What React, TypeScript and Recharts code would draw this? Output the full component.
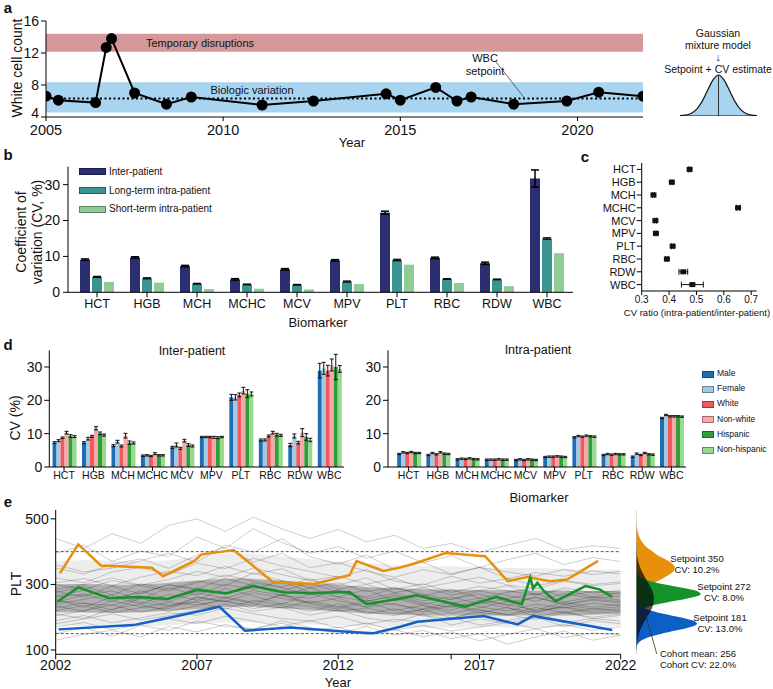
import React from "react";
import {
  Area,
  Bar,
  BarChart,
  ComposedChart,
  ErrorBar,
  Line,
  ReferenceArea,
  ReferenceLine,
  Scatter,
  ScatterChart,
  XAxis,
  YAxis,
} from "recharts";

// 多パネル図 (a: WBC 推移, b: CV 棒, c: CV 比, d: 属性別 CV, e: PLT 推移)

const FONT = "'Liberation Sans', Arial, sans-serif";

// ---- panel a
const A_YEAR = [2005.0, 2005.35, 2006.4, 2006.7, 2006.85, 2007.5, 2008.4, 2009.1, 2011.1, 2012.55, 2014.6, 2015.0, 2016.0, 2016.6, 2017.0, 2018.2, 2019.7, 2020.6, 2021.85];
const A_WBC = [6.6, 6.1, 5.8, 12.7, 13.8, 7.0, 5.6, 6.5, 5.5, 6.0, 6.9, 6.1, 7.7, 6.0, 6.5, 5.6, 6.0, 7.1, 6.6];
const A_SETPOINT = 6.3;
const GAUSS_X = [-3.5, -3, -2.5, -2, -1.5, -1, -0.5, 0, 0.5, 1, 1.5, 2, 2.5, 3, 3.5];
const GAUSS_Y = [0.01, 0.02, 0.06, 0.16, 0.35, 0.62, 0.88, 1, 0.88, 0.62, 0.35, 0.16, 0.06, 0.02, 0.01];

// ---- panel b
const MARKERS = ["HCT", "HGB", "MCH", "MCHC", "MCV", "MPV", "PLT", "RBC", "RDW", "WBC"];
const B_INTER = [9.1, 9.7, 7.3, 3.6, 6.4, 8.9, 22.2, 9.6, 8.1, 31.7];
const B_INTER_ERR = [0.2, 0.2, 0.2, 0.2, 0.2, 0.2, 0.4, 0.2, 0.3, 2.4];
const B_LONG = [4.3, 3.9, 2.4, 2.2, 2.1, 3.0, 9.0, 3.7, 3.6, 15.0];
const B_LONG_ERR = [0.15, 0.15, 0.1, 0.1, 0.1, 0.15, 0.2, 0.1, 0.1, 0.2];
const B_SHORT = [2.9, 2.7, 0.9, 1.0, 0.8, 2.3, 7.7, 2.6, 1.7, 10.9];

// ---- panel c
const C_RATIO = [0.475, 0.41, 0.343, 0.652, 0.35, 0.352, 0.413, 0.392, 0.452, 0.485];
const C_ERR = [0.004, 0.004, 0.004, 0.006, 0.004, 0.004, 0.004, 0.004, 0.016, 0.04];

// ---- panel d
const GROUPS = ["Male", "Female", "White", "Non-white", "Hispanic", "Non-hispanic"];
const GROUP_COLORS = ["#1f6db2", "#a3c9e3", "#f2585c", "#f7a8aa", "#2e9f3a", "#98d98c"];
const D_INTER = [
  [7.3, 7.3, 6.4, 3.4, 5.9, 9.0, 20.9, 8.1, 6.6, 28.9],
  [7.9, 8.5, 7.6, 3.5, 6.6, 9.0, 20.9, 8.1, 9.3, 29.6],
  [8.8, 9.2, 6.3, 3.3, 5.6, 9.0, 21.6, 9.3, 7.3, 28.9],
  [10.3, 11.6, 9.4, 4.0, 7.9, 8.9, 22.9, 10.3, 10.3, 30.6],
  [9.3, 10.1, 7.3, 3.5, 6.6, 8.8, 22.0, 9.7, 9.0, 30.0],
  [9.1, 9.6, 7.2, 3.5, 6.3, 9.0, 21.9, 9.5, 8.1, 29.4],
];
const D_INTER_ERR = [
  [0.3, 0.3, 0.3, 0.2, 0.3, 0.2, 0.9, 0.3, 0.5, 2.2],
  [0.3, 0.4, 0.4, 0.2, 0.6, 0.2, 0.8, 0.3, 0.6, 1.8],
  [0.2, 0.3, 0.3, 0.2, 0.3, 0.2, 0.6, 0.3, 0.4, 1.6],
  [0.4, 0.5, 0.7, 0.3, 0.4, 0.3, 1.0, 0.4, 1.2, 1.8],
  [0.4, 0.4, 0.5, 0.2, 0.4, 0.3, 1.2, 0.4, 1.0, 3.8],
  [0.3, 0.3, 0.3, 0.2, 0.3, 0.2, 0.6, 0.3, 0.5, 1.0],
];
const D_INTRA = [
  [3.9, 3.6, 2.3, 2.2, 2.1, 3.0, 8.9, 3.6, 3.1, 14.7],
  [4.4, 4.2, 2.5, 2.2, 2.3, 3.1, 9.3, 3.9, 4.0, 15.6],
  [4.2, 3.8, 2.4, 2.2, 2.1, 3.1, 9.1, 3.7, 3.6, 15.2],
  [4.5, 4.4, 2.6, 2.3, 2.3, 3.2, 9.4, 3.9, 4.2, 15.2],
  [4.2, 4.0, 2.4, 2.2, 2.2, 3.1, 9.2, 3.8, 3.8, 15.2],
  [4.2, 3.9, 2.3, 2.2, 2.1, 3.0, 9.1, 3.8, 3.7, 15.1],
];
const D_INTRA_ERR = 0.2;

// ---- panel e
const E_YEARS = [2002, 2003, 2004, 2005, 2006, 2007, 2008, 2009, 2010, 2011, 2012, 2013, 2014, 2015, 2016, 2017, 2018, 2019, 2020, 2021, 2022];
const E_GREY = [
  [262, 270, 248, 281, 255, 290, 272, 301, 266, 258, 284, 249, 263, 240, 255, 271, 246, 260, 238, 252, 244],
  [220, 236, 214, 229, 245, 238, 251, 226, 242, 233, 219, 228, 210, 224, 236, 214, 205, 221, 230, 212, 218],
  [305, 318, 296, 322, 340, 327, 355, 331, 348, 312, 325, 301, 318, 290, 306, 322, 298, 287, 310, 296, 303],
  [190, 205, 183, 198, 214, 206, 228, 211, 196, 188, 203, 179, 194, 185, 200, 176, 190, 205, 184, 196, 188],
  [280, 262, 295, 271, 300, 286, 318, 296, 280, 305, 276, 262, 289, 270, 254, 280, 266, 249, 272, 258, 264],
  [240, 255, 268, 246, 233, 260, 247, 275, 258, 244, 230, 252, 238, 226, 245, 232, 219, 240, 228, 243, 235],
  [350, 332, 361, 378, 349, 390, 412, 368, 395, 351, 366, 340, 322, 345, 330, 352, 318, 336, 325, 341, 332],
  [170, 184, 162, 178, 195, 181, 203, 188, 172, 190, 168, 182, 160, 175, 158, 170, 184, 165, 178, 160, 172],
  [255, 230, 262, 241, 270, 252, 288, 265, 240, 272, 250, 231, 258, 236, 221, 247, 228, 214, 238, 225, 232],
  [300, 285, 312, 296, 280, 305, 329, 310, 292, 318, 286, 300, 275, 290, 268, 282, 296, 270, 284, 262, 276],
  [228, 244, 222, 258, 236, 249, 262, 245, 268, 240, 225, 246, 220, 237, 212, 229, 248, 216, 232, 218, 226],
  [395, 420, 370, 402, 385, 445, 410, 470, 428, 395, 415, 380, 402, 366, 388, 352, 376, 395, 360, 382, 370],
  [205, 220, 238, 215, 232, 246, 225, 252, 236, 218, 241, 210, 226, 204, 196, 222, 208, 193, 214, 200, 210],
  [275, 295, 268, 302, 285, 310, 296, 335, 312, 290, 305, 278, 292, 266, 284, 258, 276, 290, 262, 280, 270],
  [150, 168, 142, 175, 160, 188, 172, 165, 182, 158, 170, 146, 162, 140, 155, 128, 148, 165, 138, 152, 146],
  [245, 268, 280, 255, 290, 268, 300, 286, 310, 275, 262, 284, 250, 268, 244, 258, 236, 262, 240, 255, 248],
  [320, 305, 338, 352, 330, 365, 348, 380, 356, 340, 322, 345, 310, 298, 325, 304, 318, 296, 312, 300, 308],
  [235, 218, 250, 232, 226, 262, 248, 236, 270, 244, 258, 230, 242, 216, 235, 222, 208, 230, 214, 226, 220],
  [265, 282, 258, 275, 298, 284, 270, 305, 290, 268, 282, 256, 274, 250, 262, 240, 258, 272, 246, 262, 252],
  [210, 196, 225, 240, 218, 235, 258, 242, 228, 250, 232, 216, 205, 224, 198, 214, 230, 202, 218, 195, 206],
  [285, 300, 320, 298, 315, 340, 322, 350, 330, 312, 298, 320, 285, 302, 276, 294, 280, 268, 290, 274, 282],
  [180, 195, 210, 192, 205, 222, 240, 218, 230, 206, 222, 198, 186, 210, 176, 195, 182, 200, 172, 190, 180],
  [360, 338, 350, 372, 395, 368, 420, 398, 440, 385, 362, 390, 345, 368, 332, 352, 338, 325, 346, 330, 340],
  [250, 242, 236, 260, 248, 275, 258, 282, 266, 290, 262, 248, 268, 244, 230, 252, 238, 222, 246, 230, 240],
  [440, 410, 455, 425, 480, 500, 462, 505, 470, 440, 468, 430, 450, 410, 425, 398, 420, 440, 405, 418, 410],
  [130, 148, 160, 140, 172, 155, 178, 162, 190, 168, 150, 172, 145, 160, 135, 150, 118, 140, 158, 130, 145],
];
const E_OUTER_LO = [175, 172, 170, 172, 175, 180, 185, 185, 180, 178, 175, 172, 170, 168, 168, 170, 170, 168, 170, 172, 175];
const E_OUTER_HI = [370, 375, 372, 370, 372, 385, 395, 395, 385, 378, 370, 365, 360, 355, 355, 352, 350, 350, 348, 345, 345];
const E_INNER_LO = [215, 215, 212, 215, 220, 225, 232, 232, 228, 222, 218, 212, 208, 205, 205, 205, 205, 205, 205, 208, 210];
const E_INNER_HI = [300, 302, 298, 300, 305, 312, 318, 318, 312, 305, 298, 292, 288, 285, 285, 283, 282, 282, 280, 280, 280];

const E_OR_X = [2002.15, 2002.8, 2003.6, 2005.4, 2005.8, 2006.9, 2007.15, 2008.3, 2009.7, 2011.1, 2012.4, 2012.65, 2013.6, 2014.2, 2014.7, 2015.8, 2017.2, 2018.0, 2018.7, 2019.5, 2020.1, 2021.2];
const E_OR_Y = [334, 422, 358, 351, 325, 371, 391, 405, 307, 301, 328, 371, 341, 352, 364, 396, 386, 310, 323, 310, 315, 372];
const E_GR_X = [2002.06, 2002.8, 2003.9, 2004.95, 2005.95, 2007.0, 2008.05, 2009.0, 2010.05, 2011.0, 2012.4, 2013.0, 2014.2, 2014.75, 2016.5, 2017.6, 2018.5, 2018.8, 2018.9, 2019.05, 2019.3, 2019.7, 2020.75, 2021.25, 2021.7];
const E_GR_Y = [247, 291, 258, 262, 256, 283, 273, 295, 276, 274, 277, 240, 257, 267, 232, 262, 240, 321, 288, 305, 278, 249, 295, 285, 262];
const E_BL_X = [2002.1, 2004.75, 2006.3, 2007.8, 2008.7, 2010.3, 2012.45, 2013.25, 2014.2, 2014.8, 2017.15, 2018.35, 2018.9, 2021.7];
const E_BL_Y = [163, 176, 204, 232, 159, 169, 155, 151, 171, 186, 204, 178, 204, 161];

const DENS_V = [100, 110, 120, 130, 140, 150, 160, 170, 180, 190, 200, 210, 220, 230, 240, 250, 260, 270, 280, 290, 300, 310, 320, 330, 340, 350, 360, 370, 380, 390, 400, 410, 420, 430, 440, 450, 460, 470, 480, 490, 500, 510, 520];
const DENS_ORANGE = [0, 0, 0, 0, 0, 0, 0, 0, 0, 0, 0, 0, 0, 0.2, 0.4, 0.8, 1.7, 3.3, 5.9, 9.7, 14.9, 21.1, 27.6, 33.4, 37.5, 39, 37.5, 33.4, 27.6, 21.1, 17, 12, 8.5, 6, 4, 2.8, 1.8, 1.1, 0.6, 0.3, 0.1, 0, 0];
const DENS_GREEN = [0, 0, 0, 0, 0, 0, 0, 0, 0, 0, 0.3, 1.2, 4.0, 10.5, 22.6, 39.4, 56, 64.7, 60.8, 46.5, 28.9, 14.6, 6.0, 2.0, 0.5, 0.1, 0, 0, 0, 0, 0, 0, 0, 0, 0, 0, 0, 0, 0, 0, 0, 0, 0];
const DENS_BLUE = [0.2, 0.6, 2.1, 5.8, 13.3, 25.6, 40.9, 54.7, 61, 56.7, 44, 28.5, 15.4, 6.9, 2.6, 0.8, 0.2, 0, 0, 0, 0, 0, 0, 0, 0, 0, 0, 0, 0, 0, 0, 0, 0, 0, 0, 0, 0, 0, 0, 0, 0, 0, 0];
const DENS_COHORT = [0.4, 0.6, 0.9, 1.4, 2.1, 3.0, 4.1, 5.5, 7.2, 9.0, 10.9, 12.9, 14.6, 16.2, 17.3, 17.9, 17.9, 17.4, 16.4, 15.0, 13.2, 11.3, 9.4, 7.5, 5.8, 4.4, 3.2, 2.3, 1.6, 1.0, 0.7, 0.4, 0.3, 0.2, 0.1, 0, 0, 0, 0, 0, 0, 0, 0];

// 表データの組み立て
const aData = A_YEAR.map((year, i) => ({ year, wbc: A_WBC[i] }));
const gaussData = GAUSS_X.map((x, i) => ({ x, d: GAUSS_Y[i] }));
const bData = MARKERS.map((name, i) => ({
  name,
  inter: B_INTER[i],
  interErr: B_INTER_ERR[i],
  long: B_LONG[i],
  longErr: B_LONG_ERR[i],
  short: B_SHORT[i],
}));
const cData = MARKERS.map((name, i) => ({ idx: i, name, ratio: C_RATIO[i], err: C_ERR[i] }));
const dRows = (vals: number[][], errs: number[][] | number) =>
  MARKERS.map((name, i) => {
    const row: Record<string, any> = { name };
    GROUPS.forEach((_, g) => {
      row[`s${g}`] = vals[g][i];
      row[`e${g}`] = typeof errs === "number" ? errs : errs[g][i];
    });
    return row;
  });
const dInter = dRows(D_INTER, D_INTER_ERR);
const dIntra = dRows(D_INTRA, D_INTRA_ERR);
const eGrey = E_YEARS.map((year, i) => {
  const row: Record<string, any> = {
    year,
    outer: [E_OUTER_LO[i], E_OUTER_HI[i]],
    inner: [E_INNER_LO[i], E_INNER_HI[i]],
  };
  E_GREY.forEach((l, k) => (row[`g${k}`] = l[i]));
  return row;
});
const toXY = (xs: number[], ys: number[]) => xs.map((year, i) => ({ year, plt: ys[i] }));
const eOrange = toXY(E_OR_X, E_OR_Y);
const eGreen = toXY(E_GR_X, E_GR_Y);
const eBlue = toXY(E_BL_X, E_BL_Y);
const densData = DENS_V.map((v, i) => ({
  v,
  orange: DENS_ORANGE[i],
  green: DENS_GREEN[i],
  blue: DENS_BLUE[i],
  cohort: DENS_COHORT[i],
}));

const tick = (size: number) => ({ fontSize: size, fill: "#111" });

// a の Y 目盛: 一番下の "4" だけ少し上げて 2005 と重ならないようにする
const AYTick = (p: any) => (
  <text x={p.x} y={p.y} dy={p.payload.value === 4 ? "0.05em" : "0.355em"} textAnchor="end" fontSize={14} fill="#111">
    {p.payload.value}
  </text>
);

function T({ x, y, size = 12, rotate = 0, weight = 400, align = "center", children }: any) {
  return (
    <div
      style={{
        position: "absolute",
        left: x,
        top: y,
        fontSize: size,
        fontWeight: weight,
        color: "#111",
        whiteSpace: "nowrap",
        lineHeight: 1.15,
        textAlign: "center",
        transform: `translate(${align === "left" ? "0" : "-50%"}, -50%) rotate(${rotate}deg)`,
      }}
    >
      {children}
    </div>
  );
}

function Box({ x, y, children }: any) {
  return <div style={{ position: "absolute", left: x, top: y }}>{children}</div>;
}

function Swatch({ x, y, w, h, color, label, size }: any) {
  return (
    <>
      <div style={{ position: "absolute", left: x, top: y - h / 2, width: w, height: h, background: color, boxSizing: "border-box", border: "0.5px solid rgba(0,0,0,0.35)" }} />
      <T x={x + w + 3} y={y} size={size} align="left">{label}</T>
    </>
  );
}

const Square = (p: any) => <rect x={p.cx - 3} y={p.cy - 2.5} width={6} height={5} fill="#111" />;

function PanelD({ data, left, width, margin, yWidth, padLeft }: any) {
  return (
    <Box x={left} y={340}>
      <BarChart width={width} height={147} data={data} margin={margin} barCategoryGap="11%" barGap={0}>
        <XAxis dataKey="name" interval={0} padding={{ left: padLeft, right: 0 }} tick={tick(10.5)} stroke="#000" tickSize={4} tickMargin={1} height={20} />
        <YAxis domain={[0, 35]} ticks={[0, 10, 20, 30]} width={yWidth} tick={tick(14)} stroke="#000" tickSize={5} tickMargin={2} />
        {GROUPS.map((g, k) => (
          <Bar key={g} dataKey={`s${k}`} fill={GROUP_COLORS[k]} isAnimationActive={false}>
            <ErrorBar dataKey={`e${k}`} width={2} stroke="#111" strokeWidth={1} />
          </Bar>
        ))}
      </BarChart>
    </Box>
  );
}

export default function App() {
  return (
    <div style={{ position: "absolute", left: 0, top: 0, width: 773, height: 689, background: "#fff", overflow: "hidden", fontFamily: FONT }}>
      {/* panel letters */}
      <T x={8} y={8} size={15} weight={700}>a</T>
      <T x={8} y={155} size={15} weight={700}>b</T>
      <T x={585} y={157} size={15} weight={700}>c</T>
      <T x={8} y={345} size={15} weight={700}>d</T>
      <T x={8} y={502} size={15} weight={700}>e</T>

      {/* ---------- a ---------- */}
      <Box x={0} y={0}>
        <ComposedChart width={660} height={140} margin={{ top: 21, right: 17, bottom: 0, left: 6 }}>
          <XAxis type="number" dataKey="year" domain={[2005, 2021.85]} ticks={[2005, 2010, 2015, 2020]} allowDataOverflow tick={tick(14.5)} stroke="#000" tickSize={4} tickMargin={4} height={23} />
          <YAxis type="number" domain={[4, 16]} ticks={[4, 8, 12, 16]} width={40} tick={AYTick} stroke="#000" tickSize={5} tickMargin={2} />
          <ReferenceArea y1={12.15} y2={14.4} fill="#d4989a" fillOpacity={1} stroke="none" />
          <ReferenceArea y1={4.55} y2={8.35} fill="#a9d4ef" fillOpacity={1} stroke="none" />
          <ReferenceLine y={A_SETPOINT} stroke="#000" strokeWidth={2} strokeDasharray="2 2.5" />
          <ReferenceLine segment={[{ x: 2017.7, y: 10.9 }, { x: 2018.5, y: 6.4 }]} stroke="#444" strokeWidth={0.8} />
          <Line data={aData} dataKey="wbc" stroke="#000" strokeWidth={2} dot={{ r: 4.5, fill: "#000", stroke: "#000" }} isAnimationActive={false} />
        </ComposedChart>
      </Box>
      <T x={17} y={68} size={14} rotate={-90}>White cell count</T>
      <T x={352} y={143} size={13}>Year</T>
      <T x={200} y={43} size={11}>Temporary disruptions</T>
      <T x={252} y={90} size={11}>Biologic variation</T>
      <T x={485} y={65} size={11}>WBC<br />setpoint</T>
      <T x={718} y={51} size={10.5}>Gaussian<br />mixture model<br />↓<br />Setpoint + CV estimate</T>
      <Box x={680} y={72}>
        <ComposedChart width={77} height={44} data={gaussData} margin={{ top: 3, right: 0, bottom: 0, left: 0 }}>
          <XAxis type="number" dataKey="x" domain={[-3.5, 3.5]} hide />
          <YAxis type="number" domain={[0, 1]} hide />
          <Area type="monotone" dataKey="d" fill="#a9d4ef" fillOpacity={1} stroke="#111" strokeWidth={1.2} isAnimationActive={false} />
          <ReferenceLine segment={[{ x: 0, y: 0 }, { x: 0, y: 1 }]} stroke="#333" strokeWidth={1} />
          <ReferenceLine y={0} stroke="#111" strokeWidth={1.2} />
        </ComposedChart>
      </Box>

      {/* ---------- b ---------- */}
      <Box x={0} y={150}>
        <BarChart width={580} height={180} data={bData} margin={{ top: 16.7, right: 7, bottom: 1.7, left: 28 }} barSize={10} barGap={2}>
          <XAxis dataKey="name" interval={0} padding={{ left: 4, right: 1 }} tick={tick(12.5)} stroke="#000" tickSize={5} tickMargin={2} height={36} />
          <YAxis domain={[0, 35]} ticks={[0, 10, 20, 30]} width={40} tick={tick(14)} stroke="#000" tickSize={5} tickMargin={3} />
          <Bar dataKey="inter" fill="#2b2f72" isAnimationActive={false}>
            <ErrorBar dataKey="interErr" width={4} stroke="#000" strokeWidth={1.5} />
          </Bar>
          <Bar dataKey="long" fill="#3a9591" isAnimationActive={false}>
            <ErrorBar dataKey="longErr" width={4} stroke="#000" strokeWidth={1.2} />
          </Bar>
          <Bar dataKey="short" fill="#8fcb94" isAnimationActive={false} />
        </BarChart>
      </Box>
      <T x={29} y={232} size={14} rotate={-90}>Coefficient of<br />variation (CV, %)</T>
      <T x={318} y={323} size={13}>Biomarker</T>
      <Swatch x={79} y={171.7} w={27} h={7} color="#2b2f72" label="Inter-patient" size={10} />
      <Swatch x={79} y={190.7} w={27} h={7} color="#3a9591" label="Long-term intra-patient" size={10} />
      <Swatch x={79} y={209} w={27} h={7} color="#8fcb94" label="Short-term intra-patient" size={10} />

      {/* ---------- c ---------- */}
      <Box x={580} y={150}>
        <ScatterChart width={193} height={171} margin={{ top: 13, right: 16.3, bottom: 0, left: 11.7 }}>
          <XAxis type="number" dataKey="ratio" domain={[0.3, 0.72]} ticks={[0.3, 0.4, 0.5, 0.6, 0.7]} tickFormatter={(v: number) => v.toFixed(1)} allowDataOverflow tick={tick(10)} stroke="#000" tickSize={4} tickMargin={1} height={30} />
          <YAxis type="number" dataKey="idx" domain={[-0.5, 9.5]} ticks={[0, 1, 2, 3, 4, 5, 6, 7, 8, 9]} interval={0} reversed tickFormatter={(i: number) => MARKERS[i]} width={50} tick={tick(11)} stroke="#000" tickSize={5} tickMargin={1} />
          <Scatter data={cData} shape={Square} isAnimationActive={false}>
            <ErrorBar dataKey="err" direction="x" width={3} stroke="#111" strokeWidth={1} />
          </Scatter>
        </ScatterChart>
      </Box>
      <T x={697} y={313} size={9.5}>CV ratio (intra-patient/inter-patient)</T>

      {/* ---------- d ---------- */}
      <PanelD data={dInter} left={0} width={360} margin={{ top: 10.3, right: 16, bottom: 0, left: 14.3 }} yWidth={35} padLeft={0} />
      <PanelD data={dIntra} left={360} width={330} margin={{ top: 10.3, right: 4, bottom: 0, left: 3 }} yWidth={25} padLeft={6} />
      <T x={192} y={351} size={12.5}>Inter-patient</T>
      <T x={538} y={350} size={12.5}>Intra-patient</T>
      <T x={15} y={418} size={14} rotate={-90}>CV (%)</T>
      <T x={539} y={498} size={13}>Biomarker</T>
      {GROUPS.map((g, k) => (
        <Swatch key={g} x={702} y={374 + k * 15.2} w={12} h={7} color={GROUP_COLORS[k]} label={g} size={8.5} />
      ))}

      {/* ---------- e ---------- */}
      <Box x={0} y={500}>
        <ComposedChart width={640} height={189} margin={{ top: 10, right: 19.3, bottom: 0, left: 15.7 }}>
          <XAxis type="number" dataKey="year" domain={[2002, 2022]} ticks={[2002, 2007, 2012, 2016, 2017, 2022]} tickFormatter={(v: number) => (v === 2016 ? "" : String(v))} allowDataOverflow tick={tick(14)} stroke="#000" tickSize={5} tickMargin={1} height={34.7} />
          <YAxis type="number" domain={[87, 527]} ticks={[100, 300, 500]} allowDataOverflow width={40} tick={tick(14)} stroke="#000" tickSize={5} tickMargin={2} />
          <Area data={eGrey} dataKey="outer" type="basis" fill="#c4c4c4" fillOpacity={0.3} stroke="none" isAnimationActive={false} />
          <Area data={eGrey} dataKey="inner" type="basis" fill="#555" fillOpacity={0.4} stroke="none" isAnimationActive={false} />
          {E_GREY.map((_, k) => (
            <Line key={k} data={eGrey} dataKey={`g${k}`} stroke="#000" strokeOpacity={0.28} strokeWidth={0.7} dot={false} isAnimationActive={false} />
          ))}
          <ReferenceLine y={400} stroke="#555" strokeDasharray="3 2" strokeWidth={1} />
          <ReferenceLine y={150} stroke="#555" strokeDasharray="3 2" strokeWidth={1} />
          <Line data={eOrange} dataKey="plt" stroke="#e8900c" strokeWidth={2.5} dot={false} isAnimationActive={false} />
          <Line data={eGreen} dataKey="plt" stroke="#16922a" strokeWidth={2.5} dot={false} isAnimationActive={false} />
          <Line data={eBlue} dataKey="plt" stroke="#1560c8" strokeWidth={2.5} dot={false} isAnimationActive={false} />
        </ComposedChart>
      </Box>
      <T x={16} y={584} size={14} rotate={-90}>PLT</T>
      <T x={338} y={683} size={13}>Year</T>
      <Box x={636} y={500}>
        <ComposedChart layout="vertical" width={100} height={154.3} data={densData} margin={{ top: 10, right: 0, bottom: 0, left: 0 }}>
          <XAxis type="number" domain={[0, 100]} hide />
          <YAxis type="number" dataKey="v" domain={[87, 527]} reversed hide />
          <ReferenceLine x={0} stroke="#bbb" strokeWidth={1} />
          <Area dataKey="orange" type="monotone" fill="#e8900c" fillOpacity={1} stroke="none" isAnimationActive={false} />
          <Area dataKey="green" type="monotone" fill="#15932a" fillOpacity={1} stroke="none" isAnimationActive={false} />
          <Area dataKey="blue" type="monotone" fill="#0d5fc8" fillOpacity={1} stroke="none" isAnimationActive={false} />
          <Area dataKey="cohort" type="monotone" fill="#0a0a0a" fillOpacity={0.72} stroke="none" isAnimationActive={false} />
          <ReferenceLine segment={[{ x: 9, y: 215 }, { x: 22, y: 75 }]} ifOverflow="visible" stroke="#333" strokeWidth={0.8} />
        </ComposedChart>
      </Box>
      <T x={697} y={565} size={9.5}>Setpoint 350<br />CV: 10.2%</T>
      <T x={724} y={593} size={9.5}>Setpoint 272<br />CV: 8.0%</T>
      <T x={720} y={624} size={9.5}>Setpoint 181<br />CV: 13.0%</T>
      <T x={698} y={660} size={9.5}>Cohort mean: 256<br />Cohort CV: 22.0%</T>
    </div>
  );
}
